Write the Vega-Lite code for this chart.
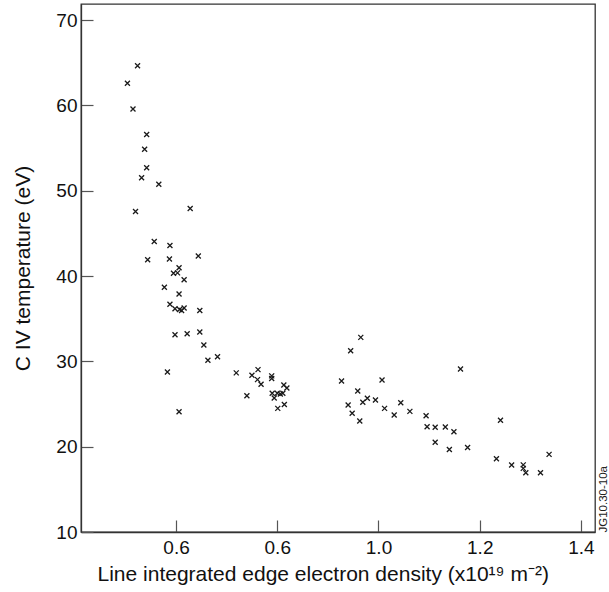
{
  "$schema": "https://vega.github.io/schema/vega-lite/v6.json",
  "width": 514,
  "height": 528,
  "autosize": {"type": "none"},
  "padding": {"left": 81, "top": 4, "right": 14, "bottom": 60},
  "background": "white",
  "config": {
    "view": {"stroke": "#333", "strokeWidth": 1.3},
    "font": "Liberation Sans",
    "axis": {"grid": false}
  },
  "data": {
    "values": [
      {"density": 0.524, "temperature": 64.64},
      {"density": 0.504, "temperature": 62.58},
      {"density": 0.515, "temperature": 59.57},
      {"density": 0.542, "temperature": 56.58},
      {"density": 0.538, "temperature": 54.85},
      {"density": 0.542, "temperature": 52.69},
      {"density": 0.532, "temperature": 51.52},
      {"density": 0.566, "temperature": 50.75},
      {"density": 0.520, "temperature": 47.56},
      {"density": 0.628, "temperature": 47.91},
      {"density": 0.557, "temperature": 44.04},
      {"density": 0.588, "temperature": 43.57},
      {"density": 0.544, "temperature": 41.90},
      {"density": 0.587, "temperature": 41.99},
      {"density": 0.644, "temperature": 42.34},
      {"density": 0.606, "temperature": 40.97},
      {"density": 0.595, "temperature": 40.32},
      {"density": 0.603, "temperature": 40.37},
      {"density": 0.616, "temperature": 39.57},
      {"density": 0.577, "temperature": 38.69},
      {"density": 0.606, "temperature": 37.89},
      {"density": 0.588, "temperature": 36.69},
      {"density": 0.598, "temperature": 36.17},
      {"density": 0.607, "temperature": 36.07},
      {"density": 0.611, "temperature": 35.96},
      {"density": 0.616, "temperature": 36.25},
      {"density": 0.647, "temperature": 35.96},
      {"density": 0.598, "temperature": 33.11},
      {"density": 0.622, "temperature": 33.24},
      {"density": 0.647, "temperature": 33.44},
      {"density": 0.655, "temperature": 31.91},
      {"density": 0.663, "temperature": 30.13},
      {"density": 0.682, "temperature": 30.53},
      {"density": 0.583, "temperature": 28.75},
      {"density": 0.606, "temperature": 24.10},
      {"density": 0.719, "temperature": 28.65},
      {"density": 0.740, "temperature": 25.97},
      {"density": 0.750, "temperature": 28.36},
      {"density": 0.762, "temperature": 29.03},
      {"density": 0.761, "temperature": 27.86},
      {"density": 0.768, "temperature": 27.32},
      {"density": 0.789, "temperature": 28.30},
      {"density": 0.789, "temperature": 27.99},
      {"density": 0.790, "temperature": 26.25},
      {"density": 0.794, "temperature": 25.70},
      {"density": 0.800, "temperature": 26.25},
      {"density": 0.806, "temperature": 26.17},
      {"density": 0.811, "temperature": 26.25},
      {"density": 0.813, "temperature": 27.22},
      {"density": 0.819, "temperature": 26.87},
      {"density": 0.801, "temperature": 24.49},
      {"density": 0.814, "temperature": 24.94},
      {"density": 0.965, "temperature": 32.81},
      {"density": 0.945, "temperature": 31.24},
      {"density": 0.927, "temperature": 27.69},
      {"density": 1.007, "temperature": 27.81},
      {"density": 0.959, "temperature": 26.52},
      {"density": 0.940, "temperature": 24.88},
      {"density": 0.948, "temperature": 23.91},
      {"density": 0.963, "temperature": 23.01},
      {"density": 0.969, "temperature": 25.20},
      {"density": 0.978, "temperature": 25.67},
      {"density": 0.994, "temperature": 25.47},
      {"density": 1.012, "temperature": 24.49},
      {"density": 1.031, "temperature": 23.71},
      {"density": 1.044, "temperature": 25.15},
      {"density": 1.062, "temperature": 24.14},
      {"density": 1.094, "temperature": 23.63},
      {"density": 1.096, "temperature": 22.34},
      {"density": 1.112, "temperature": 22.27},
      {"density": 1.132, "temperature": 22.30},
      {"density": 1.149, "temperature": 21.74},
      {"density": 1.112, "temperature": 20.51},
      {"density": 1.140, "temperature": 19.67},
      {"density": 1.162, "temperature": 29.10},
      {"density": 1.176, "temperature": 19.90},
      {"density": 1.241, "temperature": 23.09},
      {"density": 1.233, "temperature": 18.59},
      {"density": 1.263, "temperature": 17.85},
      {"density": 1.286, "temperature": 17.87},
      {"density": 1.286, "temperature": 17.46},
      {"density": 1.291, "temperature": 16.95},
      {"density": 1.320, "temperature": 16.95},
      {"density": 1.337, "temperature": 19.10}
    ]
  },
  "layer": [
    {
      "mark": {
        "type": "point",
        "shape": "M-1,-1L1,1M-1,1L1,-1",
        "filled": false,
        "size": 25,
        "strokeWidth": 1.3,
        "color": "#1a1a1a",
        "opacity": 1
      },
      "encoding": {
        "x": {
          "field": "density",
          "type": "quantitative",
          "scale": {"domain": [0.4123, 1.4277], "nice": false, "zero": false},
          "axis": {
            "title": "Line integrated edge electron density (x10¹⁹ m⁻²)",
            "values": [0.6, 0.8, 1.0, 1.2, 1.4],
            "format": ".1f",
            "labelExpr": "datum.label == '0.8' ? '0.6' : datum.label",
            "tickSize": -12,
            "tickColor": "#555",
            "tickWidth": 1.2,
            "domainColor": "#333",
            "domainWidth": 1.3,
            "labelPadding": 18,
            "labelFontSize": 19,
            "labelColor": "#111",
            "labelFont": "Liberation Sans",
            "titleFont": "Liberation Sans",
            "titleFontSize": 21,
            "titleFontWeight": "normal",
            "titleColor": "#111",
            "titlePadding": 6,
            "titleAnchor": "start",
            "titleAlign": "left",
            "titleX": 16
          }
        },
        "y": {
          "field": "temperature",
          "type": "quantitative",
          "scale": {"domain": [10, 71.875], "nice": false, "zero": false},
          "axis": {
            "title": "C IV temperature (eV)",
            "values": [10, 20, 30, 40, 50, 60, 70],
            "tickSize": -12,
            "tickColor": "#555",
            "tickWidth": 1.2,
            "domainColor": "#333",
            "domainWidth": 1.3,
            "labelPadding": 16,
            "labelFontSize": 19,
            "labelColor": "#111",
            "labelFont": "Liberation Sans",
            "titleFont": "Liberation Sans",
            "titleFontSize": 21,
            "titleFontWeight": "normal",
            "titleColor": "#111",
            "titlePadding": 22
          }
        }
      }
    },
    {
      "mark": {"type": "point", "opacity": 0},
      "encoding": {
        "x": {"field": "density", "type": "quantitative"},
        "y": {
          "field": "temperature",
          "type": "quantitative",
          "axis": {
            "orient": "right",
            "title": "JG10.30-10a",
            "labels": false,
            "ticks": false,
            "domain": false,
            "titleFont": "Liberation Sans",
            "titleFontSize": 11.5,
            "titleFontWeight": "normal",
            "titleColor": "#222",
            "titleAngle": -90,
            "titleAnchor": "start",
            "titleAlign": "left",
            "titleBaseline": "top",
            "titlePadding": 2
          }
        }
      }
    }
  ],
  "resolve": {"axis": {"y": "independent"}}
}
